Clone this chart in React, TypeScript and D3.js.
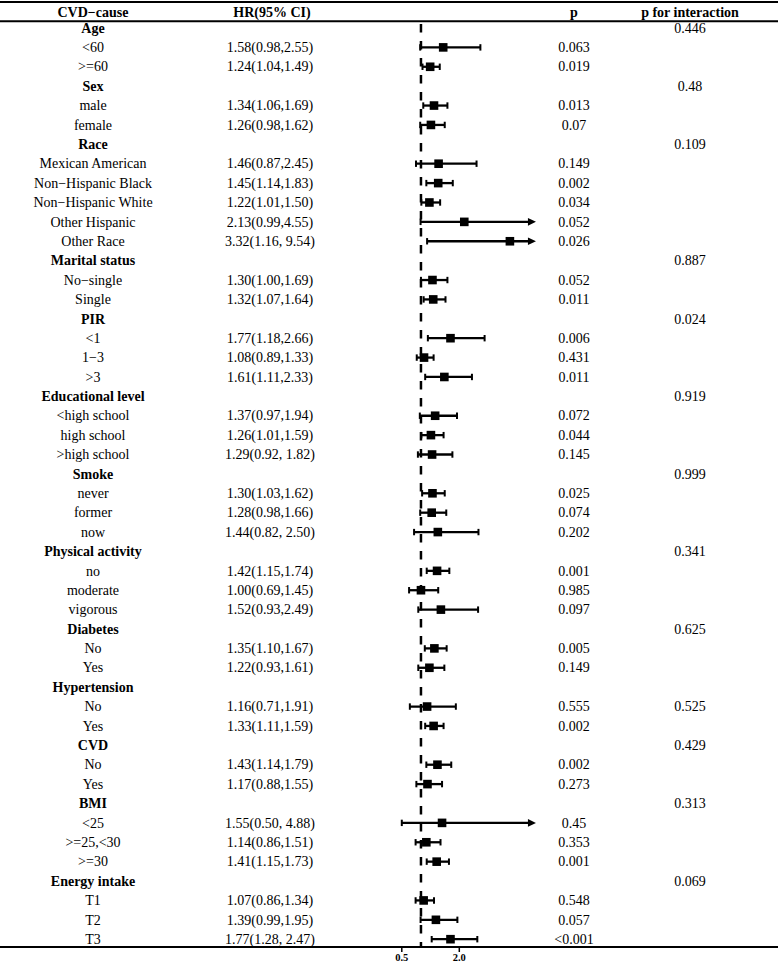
import React from 'react';
import * as d3 from 'd3';

const labels = ["Age","<60",">=60","Sex","male","female","Race","Mexican American","Non\u2212Hispanic Black","Non\u2212Hispanic White","Other Hispanic","Other Race","Marital status","No\u2212single","Single","PIR","<1","1\u22123",">3","Educational level","<high school","high school",">high school","Smoke","never","former","now","Physical activity","no","moderate","vigorous","Diabetes","No","Yes","Hypertension","No","Yes","CVD","No","Yes","BMI","<25",">=25,<30",">=30","Energy intake","T1","T2","T3"];

const hr = [null,1.58,1.24,null,1.34,1.26,null,1.46,1.45,1.22,2.13,3.32,null,1.30,1.32,null,1.77,1.08,1.61,null,1.37,1.26,1.29,null,1.30,1.28,1.44,null,1.42,1.00,1.52,null,1.35,1.22,null,1.16,1.33,null,1.43,1.17,null,1.55,1.14,1.41,null,1.07,1.39,1.77];
const lower = [null,0.98,1.04,null,1.06,0.98,null,0.87,1.14,1.01,0.99,1.16,null,1.00,1.07,null,1.18,0.89,1.11,null,0.97,1.01,0.92,null,1.03,0.98,0.82,null,1.15,0.69,0.93,null,1.10,0.93,null,0.71,1.11,null,1.14,0.88,null,0.50,0.86,1.15,null,0.86,0.99,1.28];
const upper = [null,2.55,1.49,null,1.69,1.62,null,2.45,1.83,1.50,4.55,9.54,null,1.69,1.64,null,2.66,1.33,2.33,null,1.94,1.59,1.82,null,1.62,1.66,2.50,null,1.74,1.45,2.49,null,1.67,1.61,null,1.91,1.59,null,1.79,1.55,null,4.88,1.51,1.73,null,1.34,1.95,2.47];

const hrLabels = ["","1.58(0.98,2.55)","1.24(1.04,1.49)","","1.34(1.06,1.69)","1.26(0.98,1.62)","","1.46(0.87,2.45)","1.45(1.14,1.83)","1.22(1.01,1.50)","2.13(0.99,4.55)","3.32(1.16, 9.54)","","1.30(1.00,1.69)","1.32(1.07,1.64)","","1.77(1.18,2.66)","1.08(0.89,1.33)","1.61(1.11,2.33)","","1.37(0.97,1.94)","1.26(1.01,1.59)","1.29(0.92, 1.82)","","1.30(1.03,1.62)","1.28(0.98,1.66)","1.44(0.82, 2.50)","","1.42(1.15,1.74)","1.00(0.69,1.45)","1.52(0.93,2.49)","","1.35(1.10,1.67)","1.22(0.93,1.61)","","1.16(0.71,1.91)","1.33(1.11,1.59)","","1.43(1.14,1.79)","1.17(0.88,1.55)","","1.55(0.50, 4.88)","1.14(0.86,1.51)","1.41(1.15,1.73)","","1.07(0.86,1.34)","1.39(0.99,1.95)","1.77(1.28, 2.47)"];

const pValues = ["","0.063","0.019","","0.013","0.07","","0.149","0.002","0.034","0.052","0.026","","0.052","0.011","","0.006","0.431","0.011","","0.072","0.044","0.145","","0.025","0.074","0.202","","0.001","0.985","0.097","","0.005","0.149","","0.555","0.002","","0.002","0.273","","0.45","0.353","0.001","","0.548","0.057","<0.001"];

// p for interaction, listed by row (Hypertension value sits on its "No" row)
const pInteraction = [
  "0.446","","",
  "0.48","","",
  "0.109","","","","","",
  "0.887","","",
  "0.024","","","",
  "0.919","","","",
  "0.999","","","",
  "0.341","","","",
  "0.625","","",
  "","0.525","",
  "0.429","","",
  "0.313","","","",
  "0.069","","",""
];

const headers = ["CVD\u2212cause","HR(95% CI)","p","p for interaction"];
const tickValues = [0.5, 2.0];
const tickLabels = ["0.5","2.0"];
const refValue = 1;
const clipMax = 4;

const W = 778, H = 965;
const FONT = '"Liberation Serif", "Times New Roman", serif';

export default function App() {
  const x = d3.scaleLinear().domain([0.5, 2]).range([401.8, 459.3]);
  const idx = d3.range(labels.length);
  const y = d3.scalePoint<number>().domain(idx).range([28, 939.2]);
  const axisY = 947;
  const colX = [93, 272, 574, 690];
  const boxHalf = 4.3;
  const capH = 3.2;

  return (
    <div style={{ position: 'absolute', left: 0, top: 0 }}>
      <svg width={W} height={H} style={{ display: 'block', background: '#fff' }} fontFamily={FONT}>
        <rect x={0} y={0} width={W} height={H} fill="#fff" />
        <line x1={0} x2={W} y1={2} y2={2} stroke="#000" strokeWidth={2} />
        <line x1={0} x2={W} y1={21.3} y2={21.3} stroke="#000" strokeWidth={2} />
        {headers.map((h, i) => (
          <text key={h} x={colX[i]} y={16.5} textAnchor="middle" fontSize={14} fontWeight="bold">{h}</text>
        ))}
        <line x1={x(refValue)} x2={x(refValue)} y1={24} y2={axisY} stroke="#000" strokeWidth={2.5} strokeDasharray="8.5,8.5" />
        {idx.map(i => {
          const ry = y(i)!;
          const isGroup = hr[i] == null;
          const tb = ry + 4.7;
          return (
            <g key={i}>
              <text x={colX[0]} y={tb} textAnchor="middle" fontSize={14} fontWeight={isGroup ? 'bold' : 'normal'}>{labels[i]}</text>
              {hrLabels[i] && <text x={colX[1] - 2} y={tb} textAnchor="middle" fontSize={14}>{hrLabels[i]}</text>}
              {pValues[i] && <text x={colX[2]} y={tb} textAnchor="middle" fontSize={14}>{pValues[i]}</text>}
              {pInteraction[i] && <text x={colX[3]} y={tb} textAnchor="middle" fontSize={14}>{pInteraction[i]}</text>}
              {!isGroup && (() => {
                const lo = x(lower[i]!);
                const clipped = upper[i]! > clipMax;
                const hi = x(clipped ? clipMax : upper[i]!);
                const c = x(hr[i]!);
                return (
                  <g>
                    <line x1={lo} x2={clipped ? hi - 6 : hi} y1={ry} y2={ry} stroke="#000" strokeWidth={2.3} />
                    <line x1={lo} x2={lo} y1={ry - capH} y2={ry + capH} stroke="#000" strokeWidth={2} />
                    {clipped ? (
                      <path d={`M${hi},${ry} L${hi - 8},${ry - 3.8} L${hi - 8},${ry + 3.8} Z`} fill="#000" />
                    ) : (
                      <line x1={hi} x2={hi} y1={ry - capH} y2={ry + capH} stroke="#000" strokeWidth={2} />
                    )}
                    <rect x={c - boxHalf} y={ry - boxHalf} width={boxHalf * 2} height={boxHalf * 2} fill="#000" />
                  </g>
                );
              })()}
            </g>
          );
        })}
        <line x1={0} x2={W} y1={axisY} y2={axisY} stroke="#000" strokeWidth={2} />
        {tickValues.map((t, i) => (
          <g key={t}>
            <line x1={x(t)} x2={x(t)} y1={axisY} y2={axisY + 5} stroke="#000" strokeWidth={1.5} />
            <text x={x(t)} y={961} textAnchor="middle" fontSize={10.5} fontWeight="bold">{tickLabels[i]}</text>
          </g>
        ))}
      </svg>
    </div>
  );
}
